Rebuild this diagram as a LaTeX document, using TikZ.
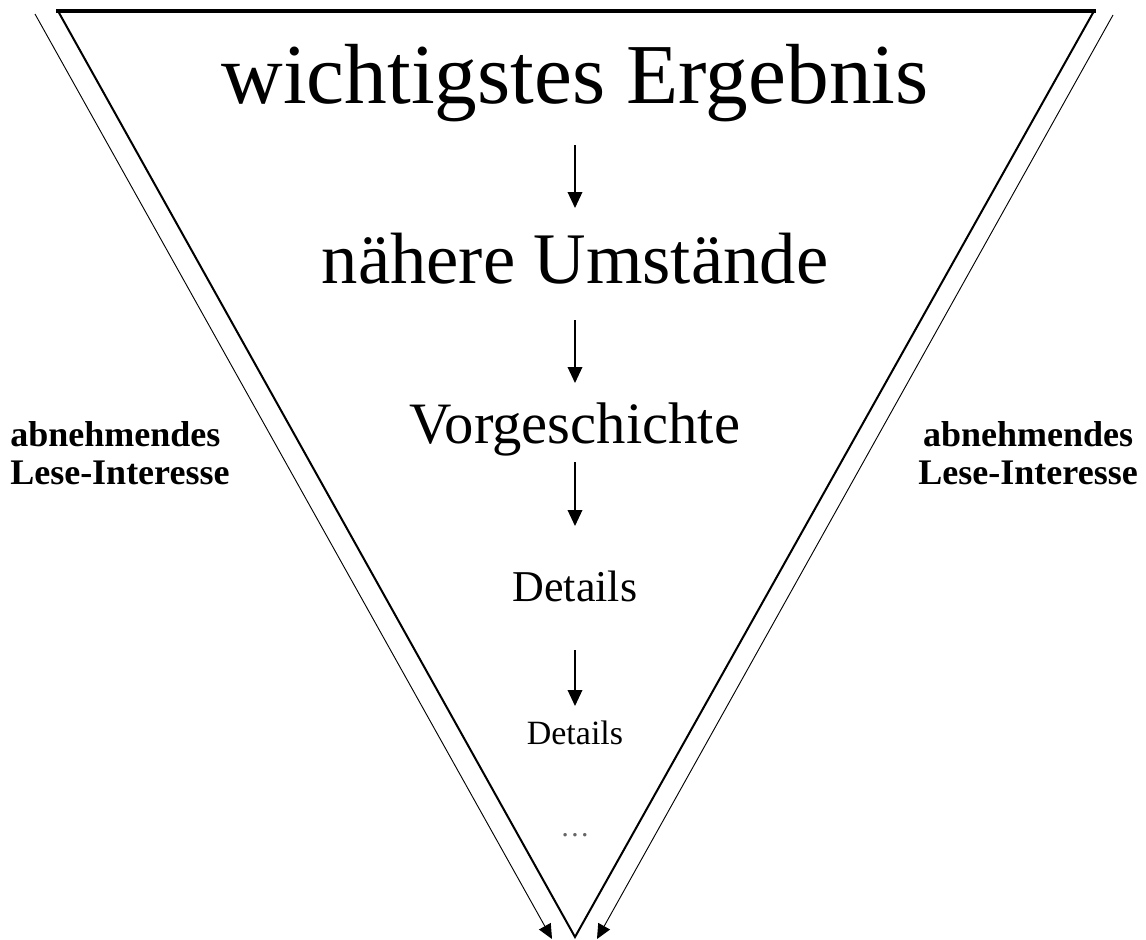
\documentclass[tikz,border=0pt]{standalone}
\usepackage{fontspec}
\setmainfont{Liberation Serif}
\usetikzlibrary{arrows.meta}
\tikzset{
  px/.style={x=0.75pt,y=-0.75pt},
  flowarrow/.style={line width=1pt,-{Triangle[width=11pt,length=12pt]}},
  sidearrow/.style={line width=0.7pt,-{Triangle[width=10pt,length=11pt]}},
  mainlabel/.style={anchor=base,inner sep=0pt},
  sidelabel/.style={inner sep=0pt,font=\fontsize{27}{28.5}\selectfont\bfseries},
}
\begin{document}
\begin{tikzpicture}[px]
\useasboundingbox (0,0) rectangle (1146,939);
% triangle
\coordinate (tl) at (58,11);
\coordinate (tr) at (1094,11);
\coordinate (tip) at (575,937);
\draw[line width=1.5pt,line join=miter] (tr) -- (tip) -- (tl);
\draw[line width=2.4pt,line cap=rect] (tl) -- (tr);
% side arrows
\coordinate (ls) at (35,14);
\coordinate (le) at (552,939);
\coordinate (rs) at (1113,15);
\coordinate (re) at (597,939);
\draw[sidearrow] (ls) -- (le);
\draw[sidearrow] (rs) -- (re);
% texts
\node[mainlabel,font=\fontsize{64}{70}\selectfont] (t1) at (575,103) {wichtigstes Ergebnis};
\node[mainlabel,font=\fontsize{54.5}{60}\selectfont] (t2) at (575,283) {nähere Umstände};
\node[mainlabel,font=\fontsize{44}{48}\selectfont] (t3) at (575,443) {Vorgeschichte};
\node[mainlabel,font=\fontsize{33}{38}\selectfont] (t4) at (575,601) {Details};
\node[mainlabel,font=\fontsize{25.5}{30}\selectfont] (t5) at (575,744) {Details};
\node[mainlabel,font=\fontsize{22}{26}\selectfont,text=black!60] (t6) at (575,836) {…};
% flow arrows
\coordinate (a1s) at (575,145); \coordinate (a1e) at (575,208);
\coordinate (a2s) at (575,320); \coordinate (a2e) at (575,383);
\coordinate (a3s) at (575,462); \coordinate (a3e) at (575,526);
\coordinate (a4s) at (575,650); \coordinate (a4e) at (575,706);
\draw[flowarrow] (a1s) -- (a1e);
\draw[flowarrow] (a2s) -- (a2e);
\draw[flowarrow] (a3s) -- (a3e);
\draw[flowarrow] (a4s) -- (a4e);
% side labels
\node[sidelabel,align=left,anchor=north west] (sl) at (10,421) {abnehmendes\\Lese-Interesse};
\node[sidelabel,align=center,anchor=north east] (sr) at (1138,421) {abnehmendes\\Lese-Interesse};
\end{tikzpicture}
\end{document}
